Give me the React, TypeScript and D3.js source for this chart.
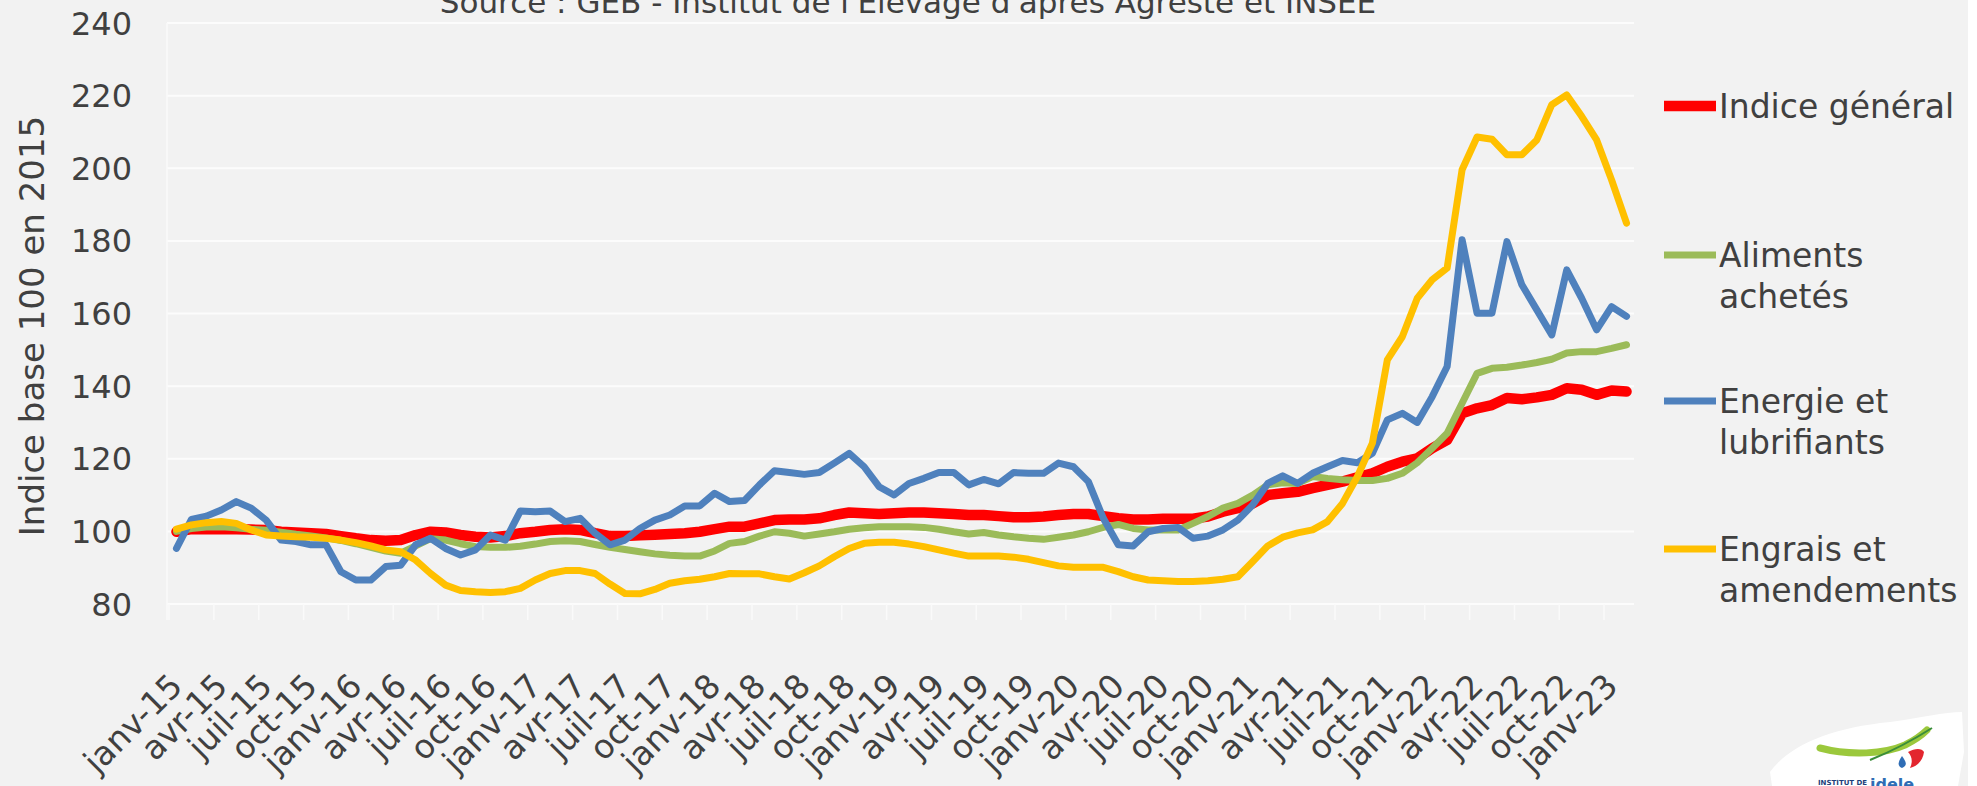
import React from 'react';
import * as d3 from 'd3';

// valeurs (indice base 100 en 2015), janv-15 -> févr-23
const indiceGeneral = [
    99.9, 100.6, 100.6, 100.6, 100.6, 100.5, 100.4, 99.9, 99.7, 99.5, 99.3, 98.7,
    98.1, 97.6, 97.4, 97.6, 99.0, 99.9, 99.7, 99.0, 98.5, 98.3, 98.7, 99.5,
    99.9, 100.4, 100.6, 100.4, 99.5, 98.7, 98.7, 98.9, 99.1, 99.3, 99.5, 99.9,
    100.6, 101.3, 101.3, 102.2, 103.1, 103.3, 103.3, 103.6, 104.5, 105.2, 105.0, 104.8,
    105.0, 105.2, 105.2, 105.0, 104.8, 104.5, 104.5, 104.2, 103.9, 103.9, 104.1, 104.5,
    104.8, 104.8, 104.2, 103.6, 103.3, 103.3, 103.5, 103.5, 103.5, 104.1, 105.4, 106.4,
    107.7, 110.0, 110.5, 110.9, 111.9, 112.8, 113.7, 114.9, 116.0, 117.8, 119.2, 120.1,
    122.9, 125.2, 132.5, 133.9, 134.8, 136.7, 136.4, 136.9, 137.6, 139.4, 139.0, 137.6,
    138.8, 138.5
];

const alimentsAchetes = [
    100.0, 100.8, 101.2, 101.3, 101.0, 100.6, 100.3, 99.8, 99.2, 98.7, 98.2, 97.5,
    96.6, 95.6, 94.6, 94.0, 96.0, 98.0, 97.6, 96.6, 95.8, 95.6, 95.6, 95.9,
    96.5, 97.2, 97.4, 97.2, 96.4, 95.6, 95.0, 94.4, 93.8, 93.4, 93.2, 93.2,
    94.6, 96.7, 97.2, 98.7, 99.9, 99.5, 98.7, 99.3, 99.9, 100.6, 101.0, 101.3,
    101.3, 101.3, 101.1, 100.6, 99.9, 99.3, 99.7, 99.0, 98.5, 98.1, 97.8, 98.4,
    99.0, 99.9, 101.1, 101.9, 100.8, 100.4, 100.4, 100.4, 102.2, 104.1, 106.4, 107.7,
    110.0, 112.8, 113.4, 113.2, 115.1, 114.6, 114.2, 114.0, 114.0, 114.6, 116.0, 118.9,
    122.9, 127.0, 135.3, 143.5, 144.9, 145.2, 145.8, 146.5, 147.4, 149.1, 149.5, 149.5,
    150.4, 151.4
];

const energieLubrifiants = [
    95.3, 103.3, 104.2, 105.9, 108.2, 106.4, 103.1, 97.6, 97.2, 96.3, 96.3, 88.9,
    86.6, 86.6, 90.3, 90.7, 96.3, 98.1, 95.3, 93.5, 94.9, 99.0, 97.6, 105.6,
    105.4, 105.6, 102.7, 103.6, 99.5, 96.3, 97.6, 100.8, 103.1, 104.5, 107.0, 107.0,
    110.5, 108.2, 108.5, 112.8, 116.7, 116.2, 115.7, 116.2, 118.8, 121.5, 117.8, 112.3,
    110.0, 113.2, 114.6, 116.2, 116.2, 112.8, 114.3, 113.1, 116.2, 116.0, 116.0, 118.8,
    117.8, 113.7, 103.6, 96.3, 96.0, 99.9, 100.8, 101.1, 98.1, 98.7, 100.4, 103.1,
    107.3, 113.2, 115.3, 113.2, 116.0, 117.8, 119.5, 118.9, 121.5, 130.7, 132.5, 130.0,
    137.1, 145.4, 180.3, 160.1, 160.1, 179.8, 167.9, 161.0, 154.1, 172.0, 164.2, 155.5,
    161.9, 159.2
];

const engraisAmendements = [
    100.6, 101.8, 102.4, 102.7, 102.2, 100.4, 99.0, 98.7, 98.5, 98.4, 98.1, 97.6,
    96.9, 96.0, 94.9, 94.4, 92.1, 88.4, 85.2, 83.7, 83.4, 83.2, 83.4, 84.3,
    86.6, 88.4, 89.2, 89.2, 88.4, 85.5, 82.9, 82.8, 84.0, 85.7, 86.4, 86.8,
    87.5, 88.4, 88.3, 88.3, 87.5, 86.9, 88.6, 90.5, 93.0, 95.3, 96.7, 97.0,
    97.0, 96.5, 95.8, 94.9, 94.0, 93.2, 93.2, 93.2, 92.9, 92.3, 91.4, 90.5,
    90.1, 90.1, 90.1, 88.9, 87.5, 86.6, 86.4, 86.2, 86.2, 86.4, 86.8, 87.5,
    91.7, 96.0, 98.4, 99.6, 100.4, 102.7, 107.7, 115.1, 124.3, 147.2, 153.6, 164.2,
    169.3, 172.5, 199.6, 208.6, 208.0, 203.7, 203.7, 207.8, 217.5, 220.2, 214.3, 207.8,
    196.8, 184.9
];

const moisAbr = ["janv", "févr", "mars", "avr", "mai", "juin", "juil", "août", "sept", "oct", "nov", "déc"];
const annees = ["15", "16", "17", "18", "19", "20", "21", "22", "23"];
const categories = annees.flatMap(a => moisAbr.map(m => `${m}-${a}`)).slice(0, indiceGeneral.length);

const yTicks = [80, 100, 120, 140, 160, 180, 200, 220, 240];

const series = [
    { label: ["Indice général"], values: indiceGeneral, color: "#ff0000", width: 10.5 },
    { label: ["Aliments", "achetés"], values: alimentsAchetes, color: "#9bbb59", width: 7 },
    { label: ["Energie et", "lubrifiants"], values: energieLubrifiants, color: "#4f81bd", width: 7 },
    { label: ["Engrais et", "amendements"], values: engraisAmendements, color: "#ffc000", width: 7 },
];

const titre = "Source : GEB - Institut de l'Elevage d'après Agreste et INSEE";
const yTitre = "Indice base 100 en 2015";

const W = 1977;
const H = 786;
const FONT = "'DejaVu Sans', sans-serif";
const TXT = "#404040";

export default function App() {
    const left = 169, right = 1634, top = 23, bottom = 604;

    const x = d3.scalePoint<string>()
        .domain(categories)
        .range([left, right])
        .padding(0.5);
    const step = x.step();

    const y = d3.scaleLinear().domain([80, 240]).range([bottom, top]);

    const line = d3.line<number>()
        .x((_, i) => x(categories[i]) as number)
        .y(d => y(d));

    const legendY = [106, 255, 401, 549];
    const legendLineGap = 41;

    return (
        <svg width={W} height={H} style={{ position: 'fixed', left: 0, top: 0, display: 'block' }}
            fontFamily={FONT}>
            <rect x={0} y={0} width={W} height={H} fill="#f2f2f2" />
            <rect x={1968} y={0} width={W - 1968} height={H} fill="#ffffff" />

            {/* titre coupé en haut */}
            <text x={908} y={13} textAnchor="middle" fontSize={31} fill={TXT}>{titre}</text>

            {/* grille */}
            {yTicks.map(t => (
                <line key={t} x1={left - 2} x2={right} y1={y(t)} y2={y(t)} stroke="#fcfcfc" strokeWidth={2} />
            ))}
            <line x1={left - 2} x2={left - 2} y1={top} y2={bottom + 16} stroke="#fafafa" strokeWidth={1.5} />
            {categories.map((c, i) => i % 3 === 0 ? (
                <line key={"t" + c} x1={left + i * step} x2={left + i * step} y1={bottom} y2={bottom + 16}
                    stroke="#fafafa" strokeWidth={1.5} />
            ) : null)}

            {/* étiquettes de l'axe Y */}
            {yTicks.map(t => (
                <text key={"y" + t} x={132} y={y(t)} dy="0.36em" textAnchor="end" fontSize={32} fill={TXT}>{t}</text>
            ))}
            <text transform={`translate(32,326) rotate(-90)`} textAnchor="middle" dy="0.36em"
                fontSize={34} fill={TXT}>{yTitre}</text>

            {/* étiquettes de l'axe X */}
            {categories.map((c, i) => i % 3 === 0 ? (
                <text key={"x" + c} transform={`translate(${(x(c) as number) + 8},688) rotate(-45)`}
                    textAnchor="end" fontSize={33} fill={TXT}>{c}</text>
            ) : null)}

            {/* courbes */}
            {series.map(s => (
                <path key={s.label.join(" ")} d={line(s.values) || ""} fill="none" stroke={s.color}
                    strokeWidth={s.width} strokeLinejoin="round" strokeLinecap="round" />
            ))}

            {/* légende */}
            {series.map((s, k) => (
                <g key={"lg" + k}>
                    <line x1={1664} x2={1716} y1={legendY[k]} y2={legendY[k]} stroke={s.color} strokeWidth={s.width} />
                    {s.label.map((l, j) => (
                        <text key={l} x={1719} y={legendY[k] + j * legendLineGap} dy="0.36em" fontSize={33} fill={TXT}>{l}</text>
                    ))}
                </g>
            ))}

            {/* logo */}
            <g>
                <path d="M1770,772 C1790,745 1830,728 1890,722 C1920,718 1945,712 1962,712 L1964,752 L1958,786 L1772,786 Z" fill="#ffffff" />
                <path d="M1820,748 C1850,756 1885,754 1905,745 C1915,740 1922,735 1927,730" fill="none" stroke="#9bc83c" strokeWidth={7} strokeLinecap="round" />
                <path d="M1870,760 C1890,752 1910,742 1932,728" fill="none" stroke="#3a8d3a" strokeWidth={2} />
                <path d="M1908,752 C1915,748 1922,748 1924,752 C1923,760 1918,766 1910,768 C1913,762 1912,756 1908,752 Z" fill="#e3262f" />
                <path d="M1902,756 C1906,762 1908,765 1902,768 C1897,766 1898,762 1902,756 Z" fill="#2f6db5" />
                <text x={1818} y={785} fontSize={7} fontWeight="bold" fill="#1e3f7a">INSTITUT DE</text>
                <text x={1870} y={790} fontSize={16} fontWeight="bold" fill="#2f6db5">idele</text>
            </g>
        </svg>
    );
}
